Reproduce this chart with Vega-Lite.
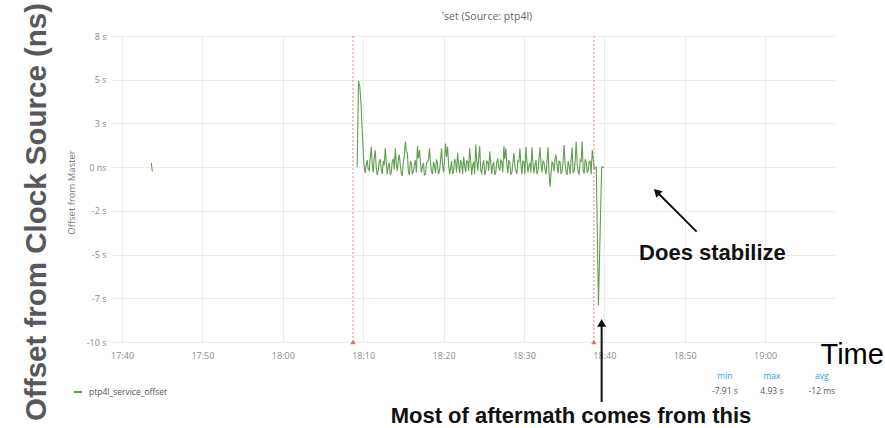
{
  "$schema": "https://vega.github.io/schema/vega-lite/v6.json",
  "width": 723,
  "height": 306,
  "autosize": {"type": "none"},
  "padding": {"left": 112, "top": 36, "right": 50, "bottom": 86},
  "background": "white",
  "config": {
    "view": {"stroke": null},
    "font": "Open Sans",
    "axisX": {"grid": true, "gridColor": "#ececec", "domain": false, "ticks": false, "labelColor": "#8a8a8a", "labelFontSize": 9, "labelPadding": 9, "labelFont": "Open Sans"},
    "axisY": {"grid": true, "gridColor": "#ececec", "domain": false, "ticks": false, "labelColor": "#8a8a8a", "labelFontSize": 9, "labelPadding": 6, "labelFont": "Open Sans"}
  },
  "resolve": {"axis": {"x": "independent", "y": "independent"}},
  "datasets": {
    "series": [
      {"t": "2018-06-01T17:43:38", "v": 0.25},
      {"t": "2018-06-01T17:43:46", "v": -0.25},
      {"t": "2018-06-01T17:50:00", "v": null},
      {"t": "2018-06-01T18:09:15", "v": 0},
      {"t": "2018-06-01T18:09:25", "v": 4.93},
      {"t": "2018-06-01T18:09:35", "v": 4.6},
      {"t": "2018-06-01T18:09:45", "v": 3.5},
      {"t": "2018-06-01T18:09:55", "v": 1.7},
      {"t": "2018-06-01T18:10:05", "v": 0.2},
      {"t": "2018-06-01T18:10:15", "v": -0.35},
      {"t": "2018-06-01T18:10:22", "v": 0.1},
      {"t": "2018-06-01T18:10:30", "v": 0.4},
      {"t": "2018-06-01T18:10:37", "v": -0.1},
      {"t": "2018-06-01T18:10:45", "v": -0.2},
      {"t": "2018-06-01T18:10:52", "v": 0.45},
      {"t": "2018-06-01T18:11:00", "v": 1.17},
      {"t": "2018-06-01T18:11:07", "v": 0.2},
      {"t": "2018-06-01T18:11:15", "v": -0.3},
      {"t": "2018-06-01T18:11:22", "v": 0.5},
      {"t": "2018-06-01T18:11:30", "v": 0.98},
      {"t": "2018-06-01T18:11:37", "v": 0},
      {"t": "2018-06-01T18:11:45", "v": -0.45},
      {"t": "2018-06-01T18:11:52", "v": -0.2},
      {"t": "2018-06-01T18:12:00", "v": 0.3},
      {"t": "2018-06-01T18:12:07", "v": 0.45},
      {"t": "2018-06-01T18:12:15", "v": -0.15},
      {"t": "2018-06-01T18:12:22", "v": -0.4},
      {"t": "2018-06-01T18:12:30", "v": 0.35},
      {"t": "2018-06-01T18:12:37", "v": 0.1},
      {"t": "2018-06-01T18:12:45", "v": 1.08},
      {"t": "2018-06-01T18:12:52", "v": 0.3},
      {"t": "2018-06-01T18:13:00", "v": -0.4},
      {"t": "2018-06-01T18:13:07", "v": 0.05},
      {"t": "2018-06-01T18:13:15", "v": 0.25},
      {"t": "2018-06-01T18:13:22", "v": -0.45},
      {"t": "2018-06-01T18:13:30", "v": -0.3},
      {"t": "2018-06-01T18:13:37", "v": 0.35},
      {"t": "2018-06-01T18:13:45", "v": 0.45},
      {"t": "2018-06-01T18:13:52", "v": -0.15},
      {"t": "2018-06-01T18:14:00", "v": 1.08},
      {"t": "2018-06-01T18:14:07", "v": 0.2},
      {"t": "2018-06-01T18:14:15", "v": -0.2},
      {"t": "2018-06-01T18:14:22", "v": 0.4},
      {"t": "2018-06-01T18:14:30", "v": 0.72},
      {"t": "2018-06-01T18:14:37", "v": 0.1},
      {"t": "2018-06-01T18:14:45", "v": -0.35},
      {"t": "2018-06-01T18:14:52", "v": -0.5},
      {"t": "2018-06-01T18:15:00", "v": 0.3},
      {"t": "2018-06-01T18:15:07", "v": 0.6},
      {"t": "2018-06-01T18:15:15", "v": 1.46},
      {"t": "2018-06-01T18:15:22", "v": 0.9},
      {"t": "2018-06-01T18:15:30", "v": 0.8},
      {"t": "2018-06-01T18:15:37", "v": -0.2},
      {"t": "2018-06-01T18:15:45", "v": -0.45},
      {"t": "2018-06-01T18:15:52", "v": 0.35},
      {"t": "2018-06-01T18:16:00", "v": 0.2},
      {"t": "2018-06-01T18:16:07", "v": -0.4},
      {"t": "2018-06-01T18:16:15", "v": -0.25},
      {"t": "2018-06-01T18:16:22", "v": 0.15},
      {"t": "2018-06-01T18:16:30", "v": 0.4},
      {"t": "2018-06-01T18:16:37", "v": -0.3},
      {"t": "2018-06-01T18:16:45", "v": 1.2},
      {"t": "2018-06-01T18:16:52", "v": 0.5},
      {"t": "2018-06-01T18:17:00", "v": 0.98},
      {"t": "2018-06-01T18:17:07", "v": 0.3},
      {"t": "2018-06-01T18:17:15", "v": -0.3},
      {"t": "2018-06-01T18:17:22", "v": 0},
      {"t": "2018-06-01T18:17:30", "v": 0.25},
      {"t": "2018-06-01T18:17:37", "v": -0.45},
      {"t": "2018-06-01T18:17:45", "v": -0.4},
      {"t": "2018-06-01T18:17:52", "v": 0.2},
      {"t": "2018-06-01T18:18:00", "v": 0.35},
      {"t": "2018-06-01T18:18:07", "v": 0.4},
      {"t": "2018-06-01T18:18:15", "v": 1.08},
      {"t": "2018-06-01T18:18:22", "v": 0.3},
      {"t": "2018-06-01T18:18:30", "v": -0.25},
      {"t": "2018-06-01T18:18:37", "v": -0.4},
      {"t": "2018-06-01T18:18:45", "v": 0.3},
      {"t": "2018-06-01T18:18:52", "v": 0.1},
      {"t": "2018-06-01T18:19:00", "v": -0.35},
      {"t": "2018-06-01T18:19:07", "v": 0.45},
      {"t": "2018-06-01T18:19:15", "v": 0.2},
      {"t": "2018-06-01T18:19:22", "v": -0.4},
      {"t": "2018-06-01T18:19:30", "v": -0.2},
      {"t": "2018-06-01T18:19:37", "v": 0.3},
      {"t": "2018-06-01T18:19:45", "v": 1.08},
      {"t": "2018-06-01T18:19:52", "v": 0.2},
      {"t": "2018-06-01T18:20:00", "v": -0.3},
      {"t": "2018-06-01T18:20:07", "v": 0.35},
      {"t": "2018-06-01T18:20:15", "v": 1.35},
      {"t": "2018-06-01T18:20:22", "v": 0.6},
      {"t": "2018-06-01T18:20:30", "v": 1.17},
      {"t": "2018-06-01T18:20:37", "v": 0.2},
      {"t": "2018-06-01T18:20:45", "v": -0.4},
      {"t": "2018-06-01T18:20:52", "v": -0.1},
      {"t": "2018-06-01T18:21:00", "v": 0.35},
      {"t": "2018-06-01T18:21:07", "v": -0.4},
      {"t": "2018-06-01T18:21:15", "v": -0.25},
      {"t": "2018-06-01T18:21:22", "v": 0.45},
      {"t": "2018-06-01T18:21:30", "v": 0.3},
      {"t": "2018-06-01T18:21:37", "v": -0.3},
      {"t": "2018-06-01T18:21:45", "v": 0.8},
      {"t": "2018-06-01T18:21:52", "v": 0.2},
      {"t": "2018-06-01T18:22:00", "v": -0.35},
      {"t": "2018-06-01T18:22:07", "v": 0.4},
      {"t": "2018-06-01T18:22:15", "v": 0.25},
      {"t": "2018-06-01T18:22:22", "v": -0.4},
      {"t": "2018-06-01T18:22:30", "v": 0.6},
      {"t": "2018-06-01T18:22:37", "v": 0.1},
      {"t": "2018-06-01T18:22:45", "v": -0.3},
      {"t": "2018-06-01T18:22:52", "v": 0.35},
      {"t": "2018-06-01T18:23:00", "v": 0.35},
      {"t": "2018-06-01T18:23:07", "v": -0.2},
      {"t": "2018-06-01T18:23:15", "v": 1.08},
      {"t": "2018-06-01T18:23:22", "v": 0.4},
      {"t": "2018-06-01T18:23:30", "v": -0.45},
      {"t": "2018-06-01T18:23:37", "v": 0.1},
      {"t": "2018-06-01T18:23:45", "v": 0.3},
      {"t": "2018-06-01T18:23:52", "v": -0.4},
      {"t": "2018-06-01T18:24:00", "v": 1.3},
      {"t": "2018-06-01T18:24:07", "v": 0.4},
      {"t": "2018-06-01T18:24:15", "v": -0.2},
      {"t": "2018-06-01T18:24:22", "v": 0.5},
      {"t": "2018-06-01T18:24:30", "v": 1.2},
      {"t": "2018-06-01T18:24:37", "v": -0.2},
      {"t": "2018-06-01T18:24:45", "v": -0.35},
      {"t": "2018-06-01T18:24:52", "v": 0.1},
      {"t": "2018-06-01T18:25:00", "v": 0.4},
      {"t": "2018-06-01T18:25:07", "v": -0.45},
      {"t": "2018-06-01T18:25:15", "v": -0.25},
      {"t": "2018-06-01T18:25:22", "v": 0.35},
      {"t": "2018-06-01T18:25:30", "v": 0.3},
      {"t": "2018-06-01T18:25:37", "v": -0.2},
      {"t": "2018-06-01T18:25:45", "v": 0.9},
      {"t": "2018-06-01T18:25:52", "v": 0.3},
      {"t": "2018-06-01T18:26:00", "v": -0.4},
      {"t": "2018-06-01T18:26:07", "v": 0.15},
      {"t": "2018-06-01T18:26:15", "v": 0.25},
      {"t": "2018-06-01T18:26:22", "v": -0.45},
      {"t": "2018-06-01T18:26:30", "v": -0.3},
      {"t": "2018-06-01T18:26:37", "v": 0.3},
      {"t": "2018-06-01T18:26:45", "v": 0.45},
      {"t": "2018-06-01T18:26:52", "v": 0},
      {"t": "2018-06-01T18:27:00", "v": -0.2},
      {"t": "2018-06-01T18:27:07", "v": 0.4},
      {"t": "2018-06-01T18:27:15", "v": 0.3},
      {"t": "2018-06-01T18:27:22", "v": -0.3},
      {"t": "2018-06-01T18:27:30", "v": 1.2},
      {"t": "2018-06-01T18:27:37", "v": 0.45},
      {"t": "2018-06-01T18:27:45", "v": 1.08},
      {"t": "2018-06-01T18:27:52", "v": 0.2},
      {"t": "2018-06-01T18:28:00", "v": -0.35},
      {"t": "2018-06-01T18:28:07", "v": 0.4},
      {"t": "2018-06-01T18:28:15", "v": 0.25},
      {"t": "2018-06-01T18:28:22", "v": -0.45},
      {"t": "2018-06-01T18:28:30", "v": -0.3},
      {"t": "2018-06-01T18:28:37", "v": 0.2},
      {"t": "2018-06-01T18:28:45", "v": 0.8},
      {"t": "2018-06-01T18:28:52", "v": 0.1},
      {"t": "2018-06-01T18:29:00", "v": -0.2},
      {"t": "2018-06-01T18:29:07", "v": -0.4},
      {"t": "2018-06-01T18:29:15", "v": 0.35},
      {"t": "2018-06-01T18:29:22", "v": 0.3},
      {"t": "2018-06-01T18:29:30", "v": 1.08},
      {"t": "2018-06-01T18:29:37", "v": 0.2},
      {"t": "2018-06-01T18:29:45", "v": -0.4},
      {"t": "2018-06-01T18:29:52", "v": 0.35},
      {"t": "2018-06-01T18:30:00", "v": 0.3},
      {"t": "2018-06-01T18:30:07", "v": -0.4},
      {"t": "2018-06-01T18:30:15", "v": 1.17},
      {"t": "2018-06-01T18:30:22", "v": 0.4},
      {"t": "2018-06-01T18:30:30", "v": -0.3},
      {"t": "2018-06-01T18:30:37", "v": 0.05},
      {"t": "2018-06-01T18:30:45", "v": 0.25},
      {"t": "2018-06-01T18:30:52", "v": -0.3},
      {"t": "2018-06-01T18:31:00", "v": 1.13},
      {"t": "2018-06-01T18:31:07", "v": 0.3},
      {"t": "2018-06-01T18:31:15", "v": -0.35},
      {"t": "2018-06-01T18:31:22", "v": 0.1},
      {"t": "2018-06-01T18:31:30", "v": 0.4},
      {"t": "2018-06-01T18:31:37", "v": -0.4},
      {"t": "2018-06-01T18:31:45", "v": -0.2},
      {"t": "2018-06-01T18:31:52", "v": 0.45},
      {"t": "2018-06-01T18:32:00", "v": 1.13},
      {"t": "2018-06-01T18:32:07", "v": 0.2},
      {"t": "2018-06-01T18:32:15", "v": -0.3},
      {"t": "2018-06-01T18:32:22", "v": 0.35},
      {"t": "2018-06-01T18:32:30", "v": 0.25},
      {"t": "2018-06-01T18:32:37", "v": -0.1},
      {"t": "2018-06-01T18:32:45", "v": -0.4},
      {"t": "2018-06-01T18:32:52", "v": 0.3},
      {"t": "2018-06-01T18:33:00", "v": 1.13},
      {"t": "2018-06-01T18:33:07", "v": -0.3},
      {"t": "2018-06-01T18:33:15", "v": -1.12},
      {"t": "2018-06-01T18:33:22", "v": -0.4},
      {"t": "2018-06-01T18:33:30", "v": 0.3},
      {"t": "2018-06-01T18:33:37", "v": 0.2},
      {"t": "2018-06-01T18:33:45", "v": -0.25},
      {"t": "2018-06-01T18:33:52", "v": 0.45},
      {"t": "2018-06-01T18:34:00", "v": 0.72},
      {"t": "2018-06-01T18:34:07", "v": 0.1},
      {"t": "2018-06-01T18:34:15", "v": -0.35},
      {"t": "2018-06-01T18:34:22", "v": 0.35},
      {"t": "2018-06-01T18:34:30", "v": 0.3},
      {"t": "2018-06-01T18:34:37", "v": -0.4},
      {"t": "2018-06-01T18:34:45", "v": -0.2},
      {"t": "2018-06-01T18:34:52", "v": 0.3},
      {"t": "2018-06-01T18:35:00", "v": 1.26},
      {"t": "2018-06-01T18:35:07", "v": 0.2},
      {"t": "2018-06-01T18:35:15", "v": -0.3},
      {"t": "2018-06-01T18:35:22", "v": -0.45},
      {"t": "2018-06-01T18:35:30", "v": 0.35},
      {"t": "2018-06-01T18:35:37", "v": 0.1},
      {"t": "2018-06-01T18:35:45", "v": -0.4},
      {"t": "2018-06-01T18:35:52", "v": 0.4},
      {"t": "2018-06-01T18:36:00", "v": 1.13},
      {"t": "2018-06-01T18:36:07", "v": -0.3},
      {"t": "2018-06-01T18:36:15", "v": -0.25},
      {"t": "2018-06-01T18:36:22", "v": 0.3},
      {"t": "2018-06-01T18:36:30", "v": 1.46},
      {"t": "2018-06-01T18:36:37", "v": 0.2},
      {"t": "2018-06-01T18:36:45", "v": -0.3},
      {"t": "2018-06-01T18:36:52", "v": -0.4},
      {"t": "2018-06-01T18:37:00", "v": 0.4},
      {"t": "2018-06-01T18:37:07", "v": 0.35},
      {"t": "2018-06-01T18:37:15", "v": 1.46},
      {"t": "2018-06-01T18:37:22", "v": -0.2},
      {"t": "2018-06-01T18:37:30", "v": -0.35},
      {"t": "2018-06-01T18:37:37", "v": 0.45},
      {"t": "2018-06-01T18:37:45", "v": 0.3},
      {"t": "2018-06-01T18:37:52", "v": -0.3},
      {"t": "2018-06-01T18:38:00", "v": -0.2},
      {"t": "2018-06-01T18:38:07", "v": 0.3},
      {"t": "2018-06-01T18:38:15", "v": 0.35},
      {"t": "2018-06-01T18:38:22", "v": -0.4},
      {"t": "2018-06-01T18:38:30", "v": 0.98},
      {"t": "2018-06-01T18:38:37", "v": 0.5},
      {"t": "2018-06-01T18:38:45", "v": -0.1},
      {"t": "2018-06-01T18:39:00", "v": 0},
      {"t": "2018-06-01T18:39:16", "v": -7.91},
      {"t": "2018-06-01T18:39:40", "v": 0},
      {"t": "2018-06-01T18:40:00", "v": 0}
    ],
    "ann": [
      {"t": "2018-06-01T18:08:44"},
      {"t": "2018-06-01T18:38:42"}
    ]
  },
  "layer": [
    {
      "data": {"name": "series"},
      "mark": {"type": "line", "strokeWidth": 1.1},
      "encoding": {
        "x": {"field": "t", "type": "temporal",
          "scale": {"domain": [{"year": 2018, "month": 6, "date": 1, "hours": 17, "minutes": 38, "seconds": 45}, {"year": 2018, "month": 6, "date": 1, "hours": 19, "minutes": 8, "seconds": 42}]},
          "axis": {"format": "%H:%M", "values": [
            {"year": 2018, "month": 6, "date": 1, "hours": 17, "minutes": 40},
            {"year": 2018, "month": 6, "date": 1, "hours": 17, "minutes": 50},
            {"year": 2018, "month": 6, "date": 1, "hours": 18, "minutes": 0},
            {"year": 2018, "month": 6, "date": 1, "hours": 18, "minutes": 10},
            {"year": 2018, "month": 6, "date": 1, "hours": 18, "minutes": 20},
            {"year": 2018, "month": 6, "date": 1, "hours": 18, "minutes": 30},
            {"year": 2018, "month": 6, "date": 1, "hours": 18, "minutes": 40},
            {"year": 2018, "month": 6, "date": 1, "hours": 18, "minutes": 50},
            {"year": 2018, "month": 6, "date": 1, "hours": 19, "minutes": 0}
          ], "title": "Time", "titleFont": "Liberation Sans", "titleFontSize": 29, "titleFontWeight": "normal", "titleColor": "#000000", "titleAnchor": "start", "titleX": 708, "titleY": -2}},
        "y": {"field": "v", "type": "quantitative",
          "scale": {"domain": [-10, 7.5], "nice": false, "zero": false},
          "axis": {"values": [-10, -7.5, -5, -2.5, 0, 2.5, 5, 7.5], "labelExpr": "datum.value == 0 ? '0 ns' : round(datum.value) + ' s'", "title": "Offset from Master", "titleFont": "Open Sans", "titleFontSize": 9.5, "titleFontWeight": "normal", "titleColor": "#777777", "titleX": -36, "titleY": 156}},
        "color": {"datum": "ptp4l_service_offset", "scale": {"range": ["#629e51"]},
          "legend": {"orient": "none", "legendX": -39, "legendY": 351, "title": null, "symbolType": "stroke", "symbolStrokeWidth": 2, "symbolSize": 64, "labelOffset": 6, "labelFontSize": 8.5, "labelColor": "#555555", "labelFont": "Open Sans"}}
      }
    },
    {
      "mark": {"type": "rule", "color": "#7eb26d", "opacity": 0.55, "strokeWidth": 1},
      "encoding": {
        "y": {"datum": 0, "type": "quantitative", "scale": {"domain": [-10, 7.5], "nice": false, "zero": false}, "axis": null}
      }
    },
    {
      "data": {"name": "ann"},
      "mark": {"type": "rule", "color": "#f08080", "strokeDash": [2, 2], "strokeWidth": 1},
      "encoding": {
        "x": {"field": "t", "type": "temporal", "scale": {"domain": [{"year": 2018, "month": 6, "date": 1, "hours": 17, "minutes": 38, "seconds": 45}, {"year": 2018, "month": 6, "date": 1, "hours": 19, "minutes": 8, "seconds": 42}]}, "axis": null}
      }
    },
    {
      "data": {"name": "ann"},
      "mark": {"type": "point", "shape": "triangle-up", "filled": true, "color": "#f06868", "opacity": 1, "size": 30},
      "encoding": {
        "x": {"field": "t", "type": "temporal", "scale": {"domain": [{"year": 2018, "month": 6, "date": 1, "hours": 17, "minutes": 38, "seconds": 45}, {"year": 2018, "month": 6, "date": 1, "hours": 19, "minutes": 8, "seconds": 42}]}, "axis": null},
        "y": {"datum": -10, "type": "quantitative", "scale": {"domain": [-10, 7.5], "nice": false, "zero": false}, "axis": null}
      }
    },
    {
      "data": {"values": [
        {"t1": "2018-06-01T18:51:29", "v1": -3.69, "t2": "2018-06-01T18:46:31", "v2": -1.41},
        {"t1": "2018-06-01T18:39:40", "v1": -13.43, "t2": "2018-06-01T18:39:40", "v2": -8.91}
      ]},
      "mark": {"type": "rule", "color": "#111111", "strokeWidth": 2},
      "encoding": {
        "x": {"field": "t1", "type": "temporal", "scale": {"domain": [{"year": 2018, "month": 6, "date": 1, "hours": 17, "minutes": 38, "seconds": 45}, {"year": 2018, "month": 6, "date": 1, "hours": 19, "minutes": 8, "seconds": 42}]}, "axis": null},
        "x2": {"field": "t2"},
        "y": {"field": "v1", "type": "quantitative", "scale": {"domain": [-10, 7.5], "nice": false, "zero": false}, "axis": null},
        "y2": {"field": "v2"}
      }
    },
    {
      "data": {"values": [{"t": "2018-06-01T18:46:31", "v": -1.41}]},
      "mark": {"type": "point", "shape": "triangle-up", "filled": true, "color": "#111111", "opacity": 1, "size": 80, "angle": 315},
      "encoding": {
        "x": {"field": "t", "type": "temporal", "scale": {"domain": [{"year": 2018, "month": 6, "date": 1, "hours": 17, "minutes": 38, "seconds": 45}, {"year": 2018, "month": 6, "date": 1, "hours": 19, "minutes": 8, "seconds": 42}]}, "axis": null},
        "y": {"field": "v", "type": "quantitative", "scale": {"domain": [-10, 7.5], "nice": false, "zero": false}, "axis": null}
      }
    },
    {
      "data": {"values": [{"t": "2018-06-01T18:39:40", "v": -8.91}]},
      "mark": {"type": "point", "shape": "triangle-up", "filled": true, "color": "#111111", "opacity": 1, "size": 80},
      "encoding": {
        "x": {"field": "t", "type": "temporal", "scale": {"domain": [{"year": 2018, "month": 6, "date": 1, "hours": 17, "minutes": 38, "seconds": 45}, {"year": 2018, "month": 6, "date": 1, "hours": 19, "minutes": 8, "seconds": 42}]}, "axis": null},
        "y": {"field": "v", "type": "quantitative", "scale": {"domain": [-10, 7.5], "nice": false, "zero": false}, "axis": null}
      }
    },
    {
      "data": {"values": [
        {"label": "Does stabilize", "t": "2018-06-01T18:53:27", "v": -5.31},
        {"label": "Most of aftermath comes from this", "t": "2018-06-01T18:35:51", "v": -14.63}
      ]},
      "mark": {"type": "text", "font": "Liberation Sans", "fontSize": 22, "fontWeight": "bold", "color": "#111111", "align": "center", "baseline": "alphabetic"},
      "encoding": {
        "x": {"field": "t", "type": "temporal", "scale": {"domain": [{"year": 2018, "month": 6, "date": 1, "hours": 17, "minutes": 38, "seconds": 45}, {"year": 2018, "month": 6, "date": 1, "hours": 19, "minutes": 8, "seconds": 42}]}, "axis": null},
        "y": {"field": "v", "type": "quantitative", "scale": {"domain": [-10, 7.5], "nice": false, "zero": false}, "axis": null},
        "text": {"field": "label"}
      }
    },
    {
      "data": {"values": [
        {"label": "Offset from Clock Source (ns)", "t": "2018-06-01T17:30:33", "v": -2.56}
      ]},
      "mark": {"type": "text", "font": "Liberation Sans", "fontSize": 29.5, "fontWeight": "bold", "color": "#58585b", "align": "center", "baseline": "alphabetic", "angle": 270},
      "encoding": {
        "x": {"field": "t", "type": "temporal", "scale": {"domain": [{"year": 2018, "month": 6, "date": 1, "hours": 17, "minutes": 38, "seconds": 45}, {"year": 2018, "month": 6, "date": 1, "hours": 19, "minutes": 8, "seconds": 42}]}, "axis": null},
        "y": {"field": "v", "type": "quantitative", "scale": {"domain": [-10, 7.5], "nice": false, "zero": false}, "axis": null},
        "text": {"field": "label"}
      }
    },
    {
      "data": {"values": [
        {"label": "'set (Source: ptp4l)", "t": "2018-06-01T18:25:24", "v": 8.59}
      ]},
      "mark": {"type": "text", "font": "Open Sans", "fontSize": 10.5, "color": "#666666", "align": "center", "baseline": "middle"},
      "encoding": {
        "x": {"field": "t", "type": "temporal", "scale": {"domain": [{"year": 2018, "month": 6, "date": 1, "hours": 17, "minutes": 38, "seconds": 45}, {"year": 2018, "month": 6, "date": 1, "hours": 19, "minutes": 8, "seconds": 42}]}, "axis": null},
        "y": {"field": "v", "type": "quantitative", "scale": {"domain": [-10, 7.5], "nice": false, "zero": false}, "axis": null},
        "text": {"field": "label"}
      }
    },
    {
      "data": {"values": [
        {"label": "min", "t": "2018-06-01T18:55:00", "v": -11.94},
        {"label": "max", "t": "2018-06-01T19:00:51", "v": -11.94},
        {"label": "avg", "t": "2018-06-01T19:07:04", "v": -11.94}
      ]},
      "mark": {"type": "text", "font": "Open Sans", "fontSize": 8.5, "color": "#33a0e0", "align": "center", "baseline": "middle"},
      "encoding": {
        "x": {"field": "t", "type": "temporal", "scale": {"domain": [{"year": 2018, "month": 6, "date": 1, "hours": 17, "minutes": 38, "seconds": 45}, {"year": 2018, "month": 6, "date": 1, "hours": 19, "minutes": 8, "seconds": 42}]}, "axis": null},
        "y": {"field": "v", "type": "quantitative", "scale": {"domain": [-10, 7.5], "nice": false, "zero": false}, "axis": null},
        "text": {"field": "label"}
      }
    },
    {
      "data": {"values": [
        {"label": "-7.91 s", "t": "2018-06-01T18:55:00", "v": -12.83},
        {"label": "4.93 s", "t": "2018-06-01T19:00:51", "v": -12.83},
        {"label": "-12 ms", "t": "2018-06-01T19:07:04", "v": -12.83}
      ]},
      "mark": {"type": "text", "font": "Open Sans", "fontSize": 8.5, "color": "#555555", "align": "center", "baseline": "middle"},
      "encoding": {
        "x": {"field": "t", "type": "temporal", "scale": {"domain": [{"year": 2018, "month": 6, "date": 1, "hours": 17, "minutes": 38, "seconds": 45}, {"year": 2018, "month": 6, "date": 1, "hours": 19, "minutes": 8, "seconds": 42}]}, "axis": null},
        "y": {"field": "v", "type": "quantitative", "scale": {"domain": [-10, 7.5], "nice": false, "zero": false}, "axis": null},
        "text": {"field": "label"}
      }
    }
  ]
}
